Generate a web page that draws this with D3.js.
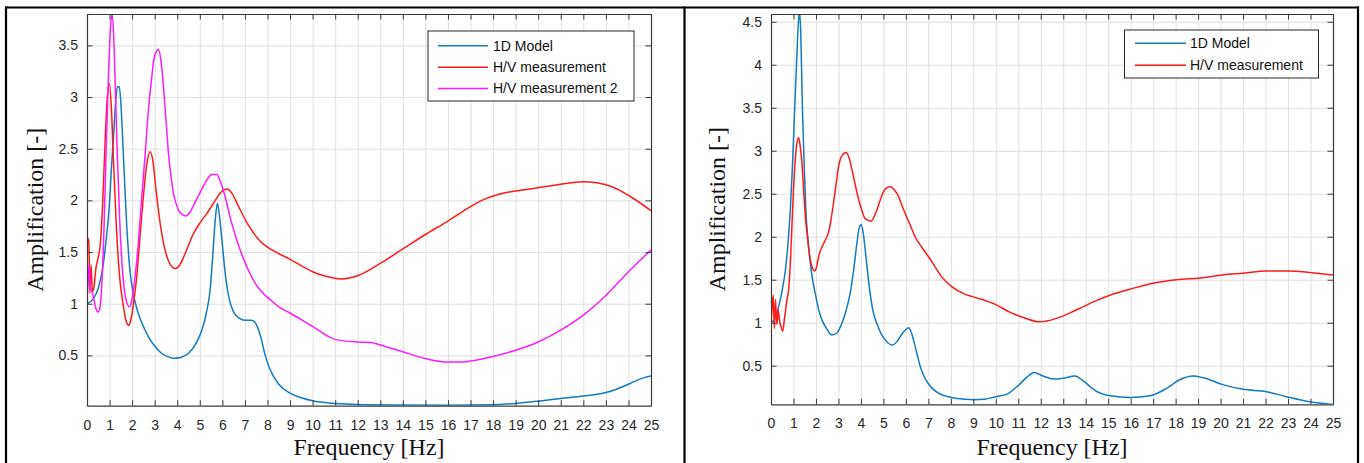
<!DOCTYPE html>
<html><head><meta charset="utf-8">
<script src="https://cdn.jsdelivr.net/npm/d3@7"></script>
<style>body{margin:0;background:#fff;} svg{display:block;}</style>
</head><body>
<svg id="c" width="1364" height="463"></svg>
<script>
// ---------- data ----------
const xTicks = d3.range(0, 26);
const yTicksLeft = [0.5, 1, 1.5, 2, 2.5, 3, 3.5];
const yTicksRight = [0.5, 1, 1.5, 2, 2.5, 3, 3.5, 4, 4.5];
const seriesNamesLeft = ["1D Model", "H/V measurement", "H/V measurement 2"];
const seriesNamesRight = ["1D Model", "H/V measurement"];
const xTitle = "Frequency [Hz]";
const yTitle = "Amplification [-]";

// Left panel: [frequency Hz, amplification]
const leftModel = [[0,1.0],[0.25,1.04],[0.5,1.15],[0.7,1.35],[0.85,1.62],[0.99,1.95],[1.08,2.3],[1.17,2.6],[1.27,2.95],[1.35,3.1],[1.43,3.1],[1.5,2.95],[1.6,2.5],[1.75,1.8],[1.9,1.33],[2.05,1.1],[2.2,0.96],[2.35,0.86],[2.5,0.78],[2.75,0.67],[3.0,0.59],[3.25,0.53],[3.5,0.495],[3.83,0.472],[4.15,0.48],[4.5,0.52],[4.87,0.63],[5.1,0.75],[5.3,0.92],[5.45,1.12],[5.57,1.45],[5.68,1.8],[5.78,1.97],[5.87,1.85],[6.0,1.57],[6.15,1.25],[6.3,1.05],[6.5,0.92],[6.75,0.86],[7.0,0.84],[7.3,0.84],[7.5,0.8],[7.7,0.68],[7.9,0.5],[8.1,0.37],[8.5,0.22],[9,0.135],[9.5,0.09],[10,0.06],[11,0.035],[12,0.025],[14,0.02],[16,0.018],[18,0.022],[19,0.035],[20,0.057],[21,0.083],[22,0.106],[23,0.14],[23.5,0.175],[24,0.22],[24.5,0.27],[25,0.30]];
const leftHV = [[0,1.65],[0.08,1.6],[0.13,1.1],[0.18,1.38],[0.24,1.12],[0.3,1.15],[0.4,1.35],[0.5,1.45],[0.6,1.6],[0.7,2.0],[0.8,2.55],[0.9,3.0],[0.99,3.13],[1.08,2.9],[1.17,2.4],[1.3,1.75],[1.45,1.25],[1.61,0.98],[1.75,0.82],[1.85,0.79],[1.95,0.85],[2.06,1.0],[2.2,1.25],[2.35,1.65],[2.5,2.04],[2.65,2.35],[2.8,2.47],[2.92,2.38],[3.05,2.12],[3.24,1.78],[3.4,1.58],[3.6,1.42],[3.9,1.34],[4.1,1.37],[4.3,1.46],[4.7,1.67],[5.0,1.78],[5.3,1.87],[5.6,1.97],[5.9,2.07],[6.2,2.11],[6.45,2.06],[6.7,1.95],[7.1,1.78],[7.7,1.6],[8.2,1.52],[9,1.43],[10,1.31],[10.5,1.27],[11.3,1.24],[12,1.27],[13,1.39],[14,1.53],[15,1.67],[16,1.80],[17,1.94],[17.7,2.02],[18.45,2.07],[19.6,2.11],[20.8,2.15],[22,2.18],[22.6,2.17],[23.3,2.13],[24.07,2.04],[25,1.90]];
const leftHV2 = [[0,1.05],[0.05,1.2],[0.1,1.38],[0.15,1.15],[0.22,1.12],[0.3,1.05],[0.4,0.95],[0.5,0.92],[0.58,0.97],[0.66,1.2],[0.75,1.7],[0.85,2.5],[0.95,3.2],[1.05,3.7],[1.12,3.80],[1.2,3.5],[1.32,2.6],[1.45,1.8],[1.58,1.3],[1.72,1.05],[1.88,0.97],[2.0,1.05],[2.13,1.26],[2.28,1.6],[2.43,2.04],[2.58,2.45],[2.72,2.87],[2.85,3.15],[2.96,3.36],[3.07,3.44],[3.17,3.46],[3.28,3.35],[3.39,3.1],[3.5,2.78],[3.61,2.46],[3.72,2.24],[3.83,2.07],[3.98,1.95],[4.13,1.88],[4.39,1.85],[4.55,1.88],[4.72,1.95],[4.95,2.05],[5.16,2.14],[5.35,2.21],[5.53,2.25],[5.75,2.25],[5.9,2.19],[6.04,2.10],[6.2,1.97],[6.34,1.84],[6.55,1.68],[6.79,1.52],[7.0,1.40],[7.23,1.29],[7.45,1.2],[7.68,1.13],[8.12,1.04],[8.56,0.96],[9,0.91],[10,0.78],[11,0.655],[12,0.63],[12.6,0.625],[13,0.60],[14,0.535],[15,0.47],[16,0.435],[16.5,0.435],[17,0.445],[18,0.49],[19,0.55],[20,0.63],[21,0.745],[22,0.89],[23,1.08],[24,1.31],[25,1.52]];

// Right panel
const rightModel = [[0,1.0],[0.2,1.05],[0.34,1.19],[0.5,1.38],[0.64,1.61],[0.75,1.9],[0.86,2.31],[0.96,2.85],[1.05,3.47],[1.15,4.1],[1.22,4.5],[1.27,4.62],[1.32,4.4],[1.4,3.47],[1.48,2.8],[1.55,2.31],[1.65,1.95],[1.75,1.69],[1.87,1.47],[2.0,1.30],[2.13,1.14],[2.27,1.03],[2.5,0.92],[2.71,0.857],[2.93,0.88],[3.15,0.99],[3.35,1.15],[3.52,1.34],[3.67,1.6],[3.82,1.92],[3.92,2.1],[4.01,2.14],[4.1,2.05],[4.19,1.85],[4.3,1.58],[4.41,1.34],[4.55,1.12],[4.71,0.99],[4.9,0.87],[5.08,0.8],[5.38,0.74],[5.6,0.78],[5.75,0.84],[5.95,0.91],[6.12,0.94],[6.25,0.88],[6.34,0.80],[6.5,0.63],[6.64,0.49],[6.8,0.38],[7.0,0.29],[7.2,0.23],[7.45,0.18],[8.04,0.13],[8.64,0.11],[9,0.105],[9.5,0.11],[10,0.14],[10.5,0.17],[11,0.27],[11.4,0.37],[11.7,0.42],[12.1,0.38],[12.56,0.345],[13.0,0.355],[13.52,0.38],[13.9,0.32],[14.49,0.20],[15.1,0.15],[15.97,0.13],[16.86,0.15],[17.6,0.237],[18.2,0.34],[18.78,0.38],[19.23,0.36],[20.1,0.28],[21.0,0.225],[22.04,0.198],[22.93,0.14],[23.97,0.08],[25,0.05]];
const rightHV = [[0,1.0],[0.06,1.2],[0.1,1.32],[0.15,0.93],[0.2,1.27],[0.26,0.98],[0.32,1.15],[0.38,1.02],[0.45,0.95],[0.52,0.9],[0.6,1.05],[0.7,1.25],[0.79,1.4],[0.87,1.75],[0.93,2.12],[1.0,2.55],[1.08,2.89],[1.16,3.1],[1.23,3.15],[1.3,3.05],[1.38,2.85],[1.45,2.55],[1.53,2.23],[1.64,1.95],[1.75,1.73],[1.85,1.63],[1.94,1.60],[2.03,1.65],[2.12,1.77],[2.23,1.86],[2.34,1.92],[2.45,1.98],[2.56,2.05],[2.67,2.2],[2.78,2.39],[2.9,2.62],[3.0,2.81],[3.15,2.94],[3.34,2.98],[3.47,2.92],[3.6,2.78],[3.75,2.6],[3.9,2.43],[4.05,2.3],[4.19,2.21],[4.46,2.18],[4.6,2.24],[4.71,2.31],[4.85,2.42],[5.0,2.52],[5.15,2.57],[5.33,2.58],[5.5,2.54],[5.67,2.47],[5.8,2.38],[5.97,2.27],[6.2,2.13],[6.41,2.0],[6.7,1.88],[7.0,1.77],[7.3,1.65],[7.6,1.53],[8.04,1.42],[8.64,1.33],[9,1.30],[10,1.21],[10.64,1.12],[11.23,1.06],[11.97,1.01],[12.7,1.05],[13.6,1.15],[14.49,1.26],[15.08,1.32],[15.97,1.39],[17,1.46],[18.04,1.50],[19.08,1.52],[20.1,1.555],[21,1.575],[22.04,1.60],[22.93,1.60],[23.97,1.585],[25,1.555]];

const colors = ["#1479c0", "#FF1a1a", "#FF1aFF"];

// ---------- drawing ----------
const svg = d3.select("#c");
svg.append("rect").attr("width",1364).attr("height",463).attr("fill","#fff");

function panel(cfg) {
  const x = d3.scaleLinear().domain([0,25]).range([cfg.x0, cfg.x1]);
  const y = d3.scaleLinear().domain(cfg.yDomain).range([cfg.y1, cfg.y0]);
  const g = svg.append("g");
  const clipId = "clip" + cfg.id;
  svg.append("defs").append("clipPath").attr("id", clipId)
    .append("rect").attr("x", cfg.x0).attr("y", cfg.y0)
    .attr("width", cfg.x1 - cfg.x0).attr("height", cfg.y1 - cfg.y0);

  // grid
  g.append("g").attr("transform", `translate(0,${cfg.y1})`)
    .call(d3.axisBottom(x).tickValues(xTicks).tickSize(-(cfg.y1 - cfg.y0)).tickFormat(""))
    .call(s => { s.select(".domain").remove(); s.selectAll("line").attr("stroke","#e0e0e0").attr("stroke-width",1); });
  g.append("g").attr("transform", `translate(${cfg.x0},0)`)
    .call(d3.axisLeft(y).tickValues(cfg.yTicks).tickSize(-(cfg.x1 - cfg.x0)).tickFormat(""))
    .call(s => { s.select(".domain").remove(); s.selectAll("line").attr("stroke","#e0e0e0").attr("stroke-width",1); });

  // lines
  const line = d3.line().x(d => x(d[0])).y(d => y(d[1])).curve(d3.curveMonotoneX);
  cfg.series.forEach((s, i) => {
    g.append("path").datum(s).attr("clip-path", `url(#${clipId})`)
      .attr("fill","none").attr("stroke", colors[i]).attr("stroke-width",1.5)
      .attr("stroke-linejoin","round").attr("d", line);
  });

  // axes (inward ticks, all four sides)
  const axCol = "#3a3a3a";
  const tickFont = "'Liberation Sans', Arial, sans-serif";
  const styleAx = s => { s.select(".domain").attr("stroke", axCol).attr("stroke-width",1.2);
    s.selectAll(".tick line").attr("stroke", axCol).attr("stroke-width",1);
    s.selectAll("text").attr("fill","#262626").style("font-family", tickFont).style("font-size","14px"); };
  g.append("g").attr("transform", `translate(0,${cfg.y1})`)
    .call(d3.axisBottom(x).tickValues(xTicks).tickSizeInner(-5.5).tickSizeOuter(0).tickPadding(14).tickFormat(d3.format("d")))
    .call(styleAx);
  g.append("g").attr("transform", `translate(0,${cfg.y0})`)
    .call(d3.axisTop(x).tickValues(xTicks).tickSizeInner(-5.5).tickSizeOuter(0).tickFormat(""))
    .call(styleAx);
  g.append("g").attr("transform", `translate(${cfg.x0},0)`)
    .call(d3.axisLeft(y).tickValues(cfg.yTicks).tickSizeInner(-5.5).tickSizeOuter(0).tickPadding(9).tickFormat(d => String(d)))
    .call(styleAx);
  g.append("g").attr("transform", `translate(${cfg.x1},0)`)
    .call(d3.axisRight(y).tickValues(cfg.yTicks).tickSizeInner(-5.5).tickSizeOuter(0).tickFormat(""))
    .call(styleAx);

  // titles
  const serif = "'Liberation Serif', 'Times New Roman', serif";
  g.append("text").attr("x", (cfg.x0 + cfg.x1) / 2).attr("y", 455)
    .attr("text-anchor","middle").attr("fill","#111")
    .style("font-family", serif).style("font-size","23px")
    .attr("textLength", 151).attr("lengthAdjust","spacingAndGlyphs").text(xTitle);
  g.append("text").attr("transform", `translate(${cfg.yLabelX},${(cfg.y0 + cfg.y1) / 2}) rotate(-90)`)
    .attr("text-anchor","middle").attr("fill","#111")
    .style("font-family", serif).style("font-size","23px")
    .attr("textLength", 164).attr("lengthAdjust","spacingAndGlyphs").text(yTitle);

  // legend
  const L = cfg.legend;
  const lg = g.append("g");
  lg.append("rect").attr("x", L.x).attr("y", L.y).attr("width", L.w).attr("height", L.h)
    .attr("fill","#fff").attr("stroke","#262626").attr("stroke-width",1);
  cfg.names.forEach((n, i) => {
    const yy = L.rowY[i];
    lg.append("line").attr("x1", L.lx0).attr("x2", L.lx1).attr("y1", yy).attr("y2", yy)
      .attr("stroke", colors[i]).attr("stroke-width",1.5);
    lg.append("text").attr("x", L.tx).attr("y", yy).attr("dy","0.35em")
      .attr("fill","#111").style("font-family", tickFont).style("font-size","14px").text(n);
  });
}

panel({ id: "L", x0: 87, x1: 651, y0: 14, y1: 405.7, yDomain: [0.013, 3.804], yTicks: yTicksLeft,
  series: [leftModel, leftHV, leftHV2], names: seriesNamesLeft, yLabelX: 43,
  legend: { x: 428, y: 31, w: 206, h: 70, rowY: [45.7, 67.3, 88.5], lx0: 438, lx1: 488, tx: 493 } });
panel({ id: "R", x0: 771, x1: 1333, y0: 14, y1: 404.3, yDomain: [0.051, 4.59], yTicks: yTicksRight,
  series: [rightModel, rightHV], names: seriesNamesRight, yLabelX: 725,
  legend: { x: 1124.5, y: 30, w: 194, h: 48, rowY: [43.3, 65.3], lx0: 1135, lx1: 1186, tx: 1190 } });

// outer frame
const fr = svg.append("g").attr("stroke","#000").attr("stroke-width",2.2);
fr.append("line").attr("x1",5).attr("x2",1359).attr("y1",7.5).attr("y2",7.5);
fr.append("line").attr("x1",6).attr("x2",6).attr("y1",6.5).attr("y2",463);
fr.append("line").attr("x1",684.5).attr("x2",684.5).attr("y1",6.5).attr("y2",463);
fr.append("line").attr("x1",1358).attr("x2",1358).attr("y1",6.5).attr("y2",463);
</script>
</body></html>
